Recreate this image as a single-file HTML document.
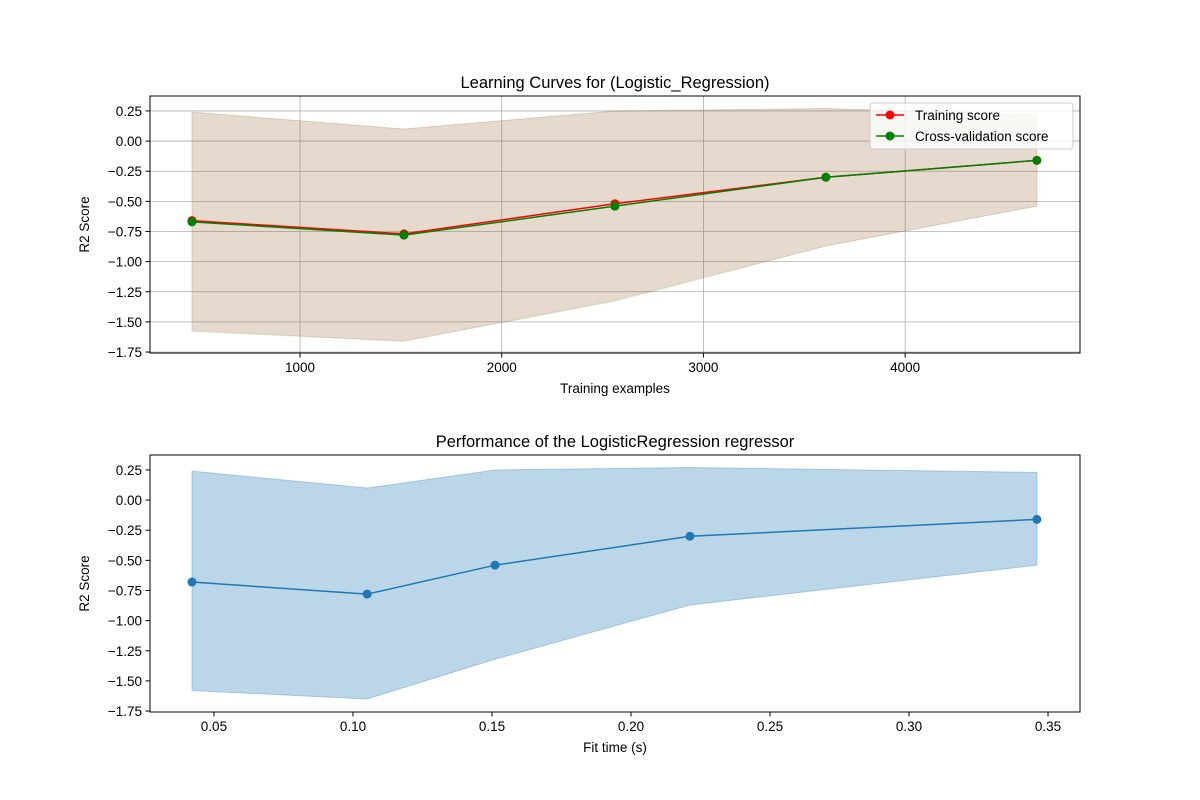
<!DOCTYPE html>
<html><head><meta charset="utf-8"><style>
html,body{margin:0;padding:0;background:#fff;}
svg{display:block;font-family:"Liberation Sans","DejaVu Sans",sans-serif;}
</style></head><body>
<svg id="fig" width="1200" height="800" xmlns="http://www.w3.org/2000/svg"></svg>
<script>
const trainSizes = [464, 1515, 2561, 3607, 4653];
const trainMean = [-0.66, -0.77, -0.52, -0.30, -0.16];
const trainUpper = [0.24, 0.10, 0.25, 0.27, 0.22];
const trainLower = [-1.57, -1.66, -1.32, -0.87, -0.54];
const cvMean = [-0.67, -0.78, -0.54, -0.30, -0.16];
const cvUpper = [0.24, 0.10, 0.25, 0.27, 0.22];
const cvLower = [-1.58, -1.66, -1.33, -0.87, -0.54];
const fitTimes = [0.0421, 0.1051, 0.1511, 0.2212, 0.3460];
const fitMean = [-0.68, -0.78, -0.54, -0.30, -0.16];
const fitUpper = [0.24, 0.10, 0.25, 0.27, 0.23];
const fitLower = [-1.58, -1.65, -1.32, -0.87, -0.54];
const topXTicks = [1000, 2000, 3000, 4000];
const botXTicks = [0.05, 0.10, 0.15, 0.20, 0.25, 0.30, 0.35];
const yTicks = [0.25, 0.00, -0.25, -0.50, -0.75, -1.00, -1.25, -1.50, -1.75];

const NS = "http://www.w3.org/2000/svg";
const svgRoot = document.getElementById('fig');
function el(tag, attrs, parent) {
  const e = document.createElementNS(NS, tag);
  for (const k in attrs) e.setAttribute(k, attrs[k]);
  (parent || svgRoot).appendChild(e);
  return e;
}
function txt(s, attrs, parent) { const t = el('text', attrs, parent); t.textContent = s; return t; }

function axes(cfg) {
  const {L, R, T, B, x0, x1, y0, y1} = cfg;
  const sx = v => L + (v - x0) / (x1 - x0) * (R - L);
  const sy = v => B - (v - y0) / (y1 - y0) * (B - T);
  const g = el('g', {});
  
  
  if (cfg.grid) {
    cfg.xticks.forEach(v => { const l = el('line', {x1: sx(v), x2: sx(v), y1: T, y2: B, stroke: '#b0b0b0', 'stroke-width': 0.8}, g);   });
    yTicks.forEach(v => { const l = el('line', {x1: L, x2: R, y1: sy(v), y2: sy(v), stroke: '#b0b0b0', 'stroke-width': 0.8}, g);   });
  }
  return {g, sx, sy, cfg};
}
function band(ax, xs, lo, hi, fill, name) {
  const pts = xs.map((x, i) => ax.sx(x) + ',' + ax.sy(hi[i])).concat(xs.map((x, i) => ax.sx(x) + ',' + ax.sy(lo[i])).reverse());
  const p = el('polygon', {points: pts.join(' '), fill: fill, stroke: fill, 'stroke-width': 1}, ax.g);
  
  
}
function series(ax, xs, ys, color, name) {
  const pl = el('polyline', {points: xs.map((x, i) => ax.sx(x) + ',' + ax.sy(ys[i])).join(' '), fill: 'none', stroke: color, 'stroke-width': 1.5}, ax.g);
  
  
  xs.forEach((x, i) => {
    const c = el('circle', {cx: ax.sx(x), cy: ax.sy(ys[i]), r: 4.5, fill: color}, ax.g);
    
    
  });
}
function frame(ax, title, xlabel, fmtX) {
  const {L, R, T, B} = ax.cfg;
  const r = el('rect', {x: L, y: T, width: R - L, height: B - T, fill: 'none', stroke: '#000', 'stroke-width': 1}, ax.g);
  
  
  ax.cfg.xticks.forEach(v => {
    el('line', {x1: ax.sx(v), x2: ax.sx(v), y1: B, y2: B + 4.5, stroke: '#000'}, ax.g);
    const t = txt(fmtX(v), {x: ax.sx(v), y: B + 19, 'font-size': 13.5, 'text-anchor': 'middle'}, ax.g);
    
    
  });
  yTicks.forEach(v => {
    el('line', {x1: L - 4.5, x2: L, y1: ax.sy(v), y2: ax.sy(v), stroke: '#000'}, ax.g);
    const t = txt(v.toFixed(2).replace('-', '\u2212'), {x: L - 8, y: ax.sy(v) + 5, 'font-size': 13.5, 'text-anchor': 'end'}, ax.g);
    
    
  });
  const tt = txt(title, {x: (L + R) / 2, y: T - 8, 'font-size': 16.5, 'text-anchor': 'middle'}, ax.g);
  
  
  const xl = txt(xlabel, {x: (L + R) / 2, y: B + 40, 'font-size': 13.5, 'text-anchor': 'middle'}, ax.g);
  
  
  const cy = (T + B) / 2;
  const yl = txt('R2 Score', {x: 89, y: cy, 'font-size': 13.5, 'text-anchor': 'middle', transform: 'rotate(-90 89 ' + cy + ')'}, ax.g);
  
  
}

// Top chart
const topAx = axes({name: 'learning-curve-chart', L: 150, R: 1080, T: 96, B: 353, x0: 256, x1: 4867, y0: -1.758, y1: 0.374, xticks: topXTicks, grid: true});
band(topAx, trainSizes, trainLower, trainUpper, 'rgba(255,0,0,0.1)', 'training-score-band');
band(topAx, trainSizes, cvLower, cvUpper, 'rgba(0,128,0,0.1)', 'cv-score-band');
series(topAx, trainSizes, trainMean, '#ff0000', 'training-score');
series(topAx, trainSizes, cvMean, '#008000', 'cv-score');
frame(topAx, 'Learning Curves for (Logistic_Regression)', 'Training examples', v => String(v));
// legend
const lg = el('g', {}, topAx.g);


el('rect', {x: 870, y: 103, width: 203, height: 46, rx: 3, fill: 'rgba(255,255,255,0.8)', stroke: '#ccc'}, lg);
[['Training score', '#ff0000', 115], ['Cross-validation score', '#008000', 136]].forEach(([lab, c, y]) => {
  const e = el('g', {}, lg);
  
  
  el('line', {x1: 876, x2: 904, y1: y, y2: y, stroke: c, 'stroke-width': 1.5}, e);
  el('circle', {cx: 890, cy: y, r: 4.5, fill: c}, e);
  txt(lab, {x: 915, y: y + 5, 'font-size': 13.5}, e);
});

// Bottom chart
const botAx = axes({name: 'performance-chart', L: 150, R: 1080, T: 455, B: 712, x0: 0.027, x1: 0.3615, y0: -1.758, y1: 0.374, xticks: botXTicks, grid: false});
band(botAx, fitTimes, fitLower, fitUpper, 'rgba(31,119,180,0.3)', 'fit-score-band');
series(botAx, fitTimes, fitMean, '#1f77b4', 'fit-score');
frame(botAx, 'Performance of the LogisticRegression regressor', 'Fit time (s)', v => v.toFixed(2));
</script>
</body></html>
